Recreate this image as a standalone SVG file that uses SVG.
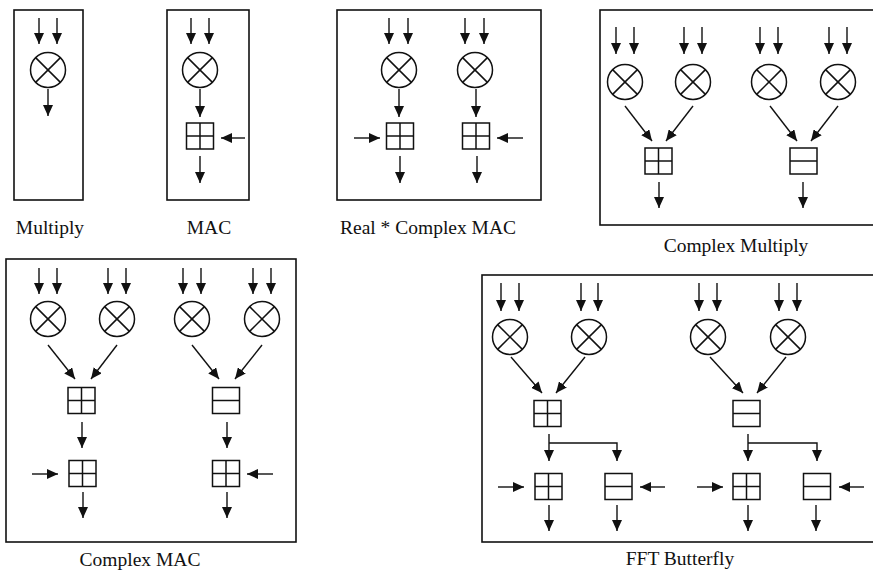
<svg xmlns="http://www.w3.org/2000/svg" xmlns:xlink="http://www.w3.org/1999/xlink" width="873" height="570" viewBox="0 0 873 570">
<style>
.frame{fill:none;stroke:#111;stroke-width:1.6}
.sym{fill:none;stroke:#111;stroke-width:1.5}
.c{fill:none;stroke:#111;stroke-width:1.4}
.a{marker-end:url(#ah)}
.lbl{font-family:"Liberation Serif","Times New Roman",serif;font-size:19.5px;fill:#111;text-anchor:middle}
</style>
<defs>
<marker id="ah" viewBox="0 0 11 10" refX="11" refY="5" markerWidth="11" markerHeight="10" markerUnits="userSpaceOnUse" orient="auto">
<path d="M0,0 L11,5 L0,10 z" fill="#111"/>
</marker>
<g id="mul" class="sym"><circle cx="0" cy="0" r="17.5"/><line x1="-12.4" y1="-12.4" x2="12.4" y2="12.4"/><line x1="-12.4" y1="12.4" x2="12.4" y2="-12.4"/></g>
<g id="add" class="sym"><rect x="-13.5" y="-13" width="27" height="26"/><line x1="0" y1="-13" x2="0" y2="13"/><line x1="-13.5" y1="0" x2="13.5" y2="0"/></g>
<g id="sub" class="sym"><rect x="-13.5" y="-13" width="27" height="26"/><line x1="-13.5" y1="0" x2="13.5" y2="0"/></g>
</defs>
<rect width="873" height="570" fill="#fff"/>

<!-- Panel frames -->
<g id="frames">
<rect class="frame" x="14" y="10" width="69" height="190"/>
<rect class="frame" x="167" y="10" width="82" height="190"/>
<rect class="frame" x="337" y="10" width="204" height="190"/>
<rect class="frame" x="600" y="10" width="280" height="215"/>
<rect class="frame" x="6" y="259" width="290" height="283"/>
<rect class="frame" x="482" y="275" width="400" height="267"/>
</g>

<!-- Nodes -->
<g id="multiply">
<g id="m1-mul"><use href="#mul" x="48" y="70"/></g>
</g>
<g id="mac">
<g id="m2-mul"><use href="#mul" x="200" y="70"/></g>
<g id="m2-add"><use href="#add" x="200" y="136"/></g>
</g>
<g id="real-complex-mac">
<g id="m3-mul1"><use href="#mul" x="399" y="70"/></g>
<g id="m3-mul2"><use href="#mul" x="475" y="70"/></g>
<g id="m3-add1"><use href="#add" x="400" y="136"/></g>
<g id="m3-add2"><use href="#add" x="476" y="136"/></g>
</g>
<g id="complex-multiply">
<g id="m4-mul1"><use href="#mul" x="625" y="82"/></g>
<g id="m4-mul2"><use href="#mul" x="693" y="82"/></g>
<g id="m4-mul3"><use href="#mul" x="769" y="82"/></g>
<g id="m4-mul4"><use href="#mul" x="838" y="82"/></g>
<g id="m4-add"><use href="#add" x="658.5" y="161"/></g>
<g id="m4-sub"><use href="#sub" x="803.5" y="161"/></g>
</g>
<g id="complex-mac">
<g id="m5-mul1"><use href="#mul" x="48" y="319"/></g>
<g id="m5-mul2"><use href="#mul" x="117" y="319"/></g>
<g id="m5-mul3"><use href="#mul" x="192" y="319"/></g>
<g id="m5-mul4"><use href="#mul" x="262" y="319"/></g>
<g id="m5-add1"><use href="#add" x="81.5" y="400.5"/></g>
<g id="m5-sub1"><use href="#sub" x="226" y="400.5"/></g>
<g id="m5-add2"><use href="#add" x="82.5" y="473.5"/></g>
<g id="m5-add3"><use href="#add" x="226" y="473.5"/></g>
</g>
<g id="fft-butterfly">
<g id="m6-mul1"><use href="#mul" x="510" y="337"/></g>
<g id="m6-mul2"><use href="#mul" x="589" y="337"/></g>
<g id="m6-mul3"><use href="#mul" x="708" y="337"/></g>
<g id="m6-mul4"><use href="#mul" x="788" y="337"/></g>
<g id="m6-add1"><use href="#add" x="547.5" y="413.5"/></g>
<g id="m6-sub1"><use href="#sub" x="746.5" y="413.5"/></g>
<g id="m6-add2"><use href="#add" x="548.5" y="486.5"/></g>
<g id="m6-sub2"><use href="#sub" x="618.5" y="486.5"/></g>
<g id="m6-add3"><use href="#add" x="746.5" y="486.5"/></g>
<g id="m6-sub3"><use href="#sub" x="817" y="486.5"/></g>
</g>

<!-- Connectors -->
<g id="connectors" class="c">
<!-- Multiply -->
<line class="a" x1="39" y1="18" x2="39" y2="44"/>
<line class="a" x1="57" y1="18" x2="57" y2="44"/>
<line class="a" x1="48" y1="89" x2="48" y2="116"/>
<!-- MAC -->
<line class="a" x1="191" y1="18" x2="191" y2="44"/>
<line class="a" x1="209" y1="18" x2="209" y2="44"/>
<line class="a" x1="200" y1="89" x2="200" y2="117"/>
<line class="a" x1="245" y1="138" x2="221" y2="138"/>
<line class="a" x1="200" y1="156" x2="200" y2="183"/>
<!-- Real * Complex MAC -->
<line class="a" x1="389" y1="18" x2="389" y2="44"/>
<line class="a" x1="408" y1="18" x2="408" y2="44"/>
<line class="a" x1="465" y1="18" x2="465" y2="44"/>
<line class="a" x1="484" y1="18" x2="484" y2="44"/>
<line class="a" x1="399" y1="89" x2="399" y2="117"/>
<line class="a" x1="476" y1="89" x2="476" y2="117"/>
<line class="a" x1="354" y1="138" x2="380" y2="138"/>
<line class="a" x1="523" y1="138" x2="497" y2="138"/>
<line class="a" x1="400" y1="156" x2="400" y2="183"/>
<line class="a" x1="477" y1="156" x2="477" y2="183"/>
<!-- Complex Multiply -->
<line class="a" x1="616" y1="27" x2="616" y2="54"/>
<line class="a" x1="634" y1="27" x2="634" y2="54"/>
<line class="a" x1="684" y1="27" x2="684" y2="54"/>
<line class="a" x1="702" y1="27" x2="702" y2="54"/>
<line class="a" x1="760" y1="27" x2="760" y2="54"/>
<line class="a" x1="778" y1="27" x2="778" y2="54"/>
<line class="a" x1="829" y1="27" x2="829" y2="54"/>
<line class="a" x1="847" y1="27" x2="847" y2="54"/>
<line class="a" x1="625" y1="106" x2="652" y2="141"/>
<line class="a" x1="693" y1="106" x2="666" y2="141"/>
<line class="a" x1="770" y1="106" x2="797" y2="141"/>
<line class="a" x1="838" y1="106" x2="811" y2="141"/>
<line class="a" x1="659" y1="182" x2="659" y2="208"/>
<line class="a" x1="803" y1="182" x2="803" y2="208"/>
<!-- Complex MAC -->
<line class="a" x1="39" y1="268" x2="39" y2="294"/>
<line class="a" x1="57" y1="268" x2="57" y2="294"/>
<line class="a" x1="108" y1="268" x2="108" y2="294"/>
<line class="a" x1="126" y1="268" x2="126" y2="294"/>
<line class="a" x1="183" y1="268" x2="183" y2="294"/>
<line class="a" x1="201" y1="268" x2="201" y2="294"/>
<line class="a" x1="253" y1="268" x2="253" y2="294"/>
<line class="a" x1="271" y1="268" x2="271" y2="294"/>
<line class="a" x1="48" y1="345" x2="75" y2="379"/>
<line class="a" x1="117" y1="345" x2="91" y2="379"/>
<line class="a" x1="192" y1="345" x2="219" y2="379"/>
<line class="a" x1="262" y1="345" x2="235" y2="379"/>
<line class="a" x1="82" y1="422" x2="82" y2="448"/>
<line class="a" x1="227" y1="422" x2="227" y2="448"/>
<line class="a" x1="32" y1="474" x2="58" y2="474"/>
<line class="a" x1="273" y1="474" x2="247" y2="474"/>
<line class="a" x1="83" y1="492" x2="83" y2="518"/>
<line class="a" x1="227" y1="492" x2="227" y2="518"/>
<!-- FFT Butterfly -->
<line class="a" x1="501" y1="283" x2="501" y2="311"/>
<line class="a" x1="519" y1="283" x2="519" y2="311"/>
<line class="a" x1="581" y1="283" x2="581" y2="311"/>
<line class="a" x1="598" y1="283" x2="598" y2="311"/>
<line class="a" x1="699" y1="283" x2="699" y2="311"/>
<line class="a" x1="717" y1="283" x2="717" y2="311"/>
<line class="a" x1="779" y1="283" x2="779" y2="311"/>
<line class="a" x1="797" y1="283" x2="797" y2="311"/>
<line class="a" x1="511" y1="357" x2="542" y2="393"/>
<line class="a" x1="585" y1="357" x2="556" y2="393"/>
<line class="a" x1="710" y1="357" x2="743" y2="393"/>
<line class="a" x1="786" y1="357" x2="757" y2="393"/>
<line class="a" x1="549" y1="434" x2="549" y2="461"/>
<polyline class="a" points="549,443 617,443 617,461"/>
<line class="a" x1="748" y1="434" x2="748" y2="461"/>
<polyline class="a" points="748,443 817,443 817,461"/>
<line class="a" x1="498" y1="487" x2="524" y2="487"/>
<line class="a" x1="665" y1="487" x2="640" y2="487"/>
<line class="a" x1="697" y1="487" x2="723" y2="487"/>
<line class="a" x1="864" y1="487" x2="839" y2="487"/>
<line class="a" x1="549" y1="505" x2="549" y2="531"/>
<line class="a" x1="617" y1="505" x2="617" y2="531"/>
<line class="a" x1="748" y1="505" x2="748" y2="531"/>
<line class="a" x1="816" y1="505" x2="816" y2="531"/>
</g>

<!-- Labels -->
<g id="labels">
<text class="lbl" x="50" y="234">Multiply</text>
<text class="lbl" x="209" y="234">MAC</text>
<text class="lbl" x="428" y="234">Real * Complex MAC</text>
<text class="lbl" x="736" y="252">Complex Multiply</text>
<text class="lbl" x="140" y="566">Complex MAC</text>
<text class="lbl" x="680" y="565">FFT Butterfly</text>
</g>
</svg>
